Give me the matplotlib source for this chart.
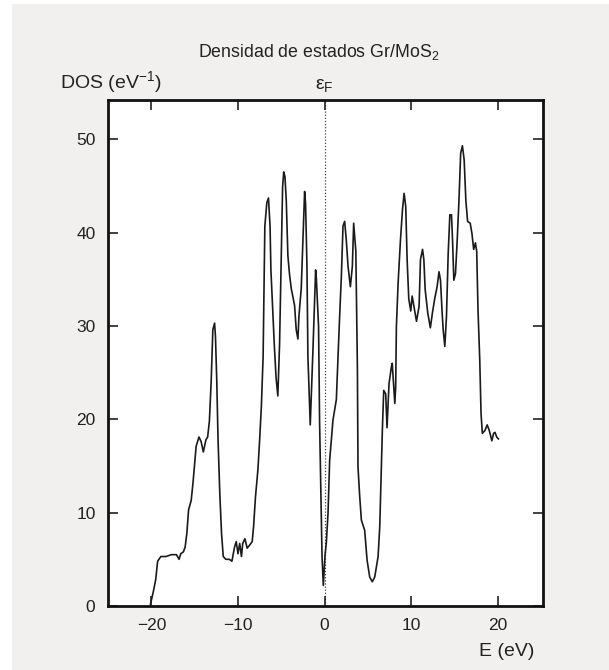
import matplotlib
matplotlib.use('Agg')
import matplotlib.pyplot as plt
from matplotlib.patches import Rectangle

plt.rcParams.update({
    'font.family': ['Liberation Sans', 'DejaVu Sans'],
    'mathtext.fontset': 'custom',
    'mathtext.rm': 'Liberation Sans',
    'mathtext.it': 'Liberation Sans:italic',
    'text.color': '#222222',
    'xtick.color': '#222222',
    'ytick.color': '#222222',
})

# energy (eV) and density of states (1/eV)
energy = [
    -20.1, -19.8, -19.5, -19.27, -18.9, -18.3, -17.7, -17.1, -16.8, -16.6,
    -16.3, -16.1, -15.9, -15.7, -15.4, -15.2, -15.0, -14.83, -14.5, -14.25,
    -14.0, -13.7, -13.5, -13.3, -13.1, -12.9, -12.7, -12.6, -12.45, -12.3,
    -12.1, -11.9, -11.7, -11.4, -11.0, -10.7, -10.4, -10.2, -10.0, -9.8,
    -9.6, -9.45, -9.2, -8.94, -8.67, -8.36, -8.2, -7.98, -7.7, -7.5,
    -7.3, -7.1, -7.0, -6.9, -6.67, -6.48, -6.3, -6.2, -5.8, -5.6,
    -5.4, -5.2, -5.0, -4.85, -4.72, -4.58, -4.43, -4.24, -4.05, -3.85,
    -3.47, -3.28, -3.08, -2.97, -2.7, -2.5, -2.31, -2.2, -2.04, -1.93,
    -1.66, -1.35, -1.04, -0.95, -0.7, -0.58, -0.39, -0.3, -0.15, 0.05,
    0.19, 0.39, 0.58, 0.96, 1.35, 1.73, 1.93, 2.12, 2.31, 2.5,
    2.7, 2.97, 3.2, 3.35, 3.6, 3.78, 3.85, 4.05, 4.24, 4.62,
    4.9, 5.2, 5.5, 5.78, 6.17, 6.36, 6.55, 6.67, 6.82, 7.05,
    7.2, 7.43, 7.7, 7.8, 8.1, 8.2, 8.28, 8.48, 8.75, 8.98,
    9.17, 9.36, 9.52, 9.71, 9.94, 10.1, 10.3, 10.6, 10.9, 11.06,
    11.3, 11.45, 11.6, 11.9, 12.2, 12.44, 12.7, 12.98, 13.2, 13.37,
    13.56, 13.68, 13.87, 14.06, 14.26, 14.45, 14.64, 14.76, 14.91, 15.1,
    15.3, 15.5, 15.7, 15.9, 16.1, 16.3, 16.5, 16.8, 17.0, 17.2,
    17.4, 17.55, 17.7, 17.9, 18.05, 18.2, 18.5, 18.76, 19.0, 19.3,
    19.5, 19.66, 19.86, 20.05,
]
dos = [
    0.2, 1.4, 2.8, 4.8, 5.3, 5.3, 5.5, 5.5, 5.0, 5.6,
    5.8, 6.3, 7.8, 10.3, 11.3, 13.1, 15.3, 17.1, 18.1, 17.6,
    16.5, 17.8, 18.1, 19.8, 23.9, 29.6, 30.3, 28.9, 24.2, 17.8,
    12.1, 7.8, 5.3, 5.0, 5.0, 4.8, 6.3, 6.9, 5.6, 6.7,
    5.3, 6.7, 7.2, 6.2, 6.5, 6.9, 8.5, 11.7, 14.6, 17.8,
    21.4, 26.7, 33.5, 40.7, 43.2, 43.7, 40.7, 36.0, 27.8, 24.4,
    22.5, 28.1, 37.6, 44.9, 46.5, 46.0, 43.5, 37.5, 35.5, 34.0,
    32.2, 29.6, 28.6, 31.0, 34.0, 39.2, 44.4, 43.1, 36.4, 26.7,
    19.4, 27.4, 36.0, 35.0, 29.9, 19.6, 9.9, 5.3, 2.2, 5.5,
    6.7, 9.9, 15.6, 19.9, 22.1, 31.0, 35.3, 40.7, 41.2, 39.2,
    36.4, 34.2, 36.4, 41.0, 38.0, 25.6, 14.9, 11.7, 9.2, 8.1,
    4.9, 3.1, 2.6, 3.1, 5.3, 8.5, 14.9, 19.1, 23.1, 22.7,
    19.1, 23.8, 25.6, 26.0, 21.7, 23.5, 29.9, 34.6, 39.2, 42.4,
    44.2, 42.8, 37.1, 32.9, 31.6, 33.2, 32.1, 30.5, 32.1, 37.1,
    38.2, 37.1, 33.9, 31.4, 29.8, 31.4, 32.9, 34.2, 35.8, 34.9,
    31.4, 29.6, 27.8, 31.0, 37.8, 41.9, 41.9, 39.2, 34.9, 35.6,
    39.2, 43.4, 48.5, 49.3, 47.8, 43.4, 41.2, 41.0, 39.9, 38.2,
    38.9, 38.0, 31.7, 26.4, 20.6, 18.5, 18.8, 19.4, 18.8, 17.7,
    18.5, 18.6, 18.1, 17.9,
]
x_ticks = [-20, -10, 0, 10, 20]
y_ticks = [0, 10, 20, 30, 40, 50]

fig = plt.figure(figsize=(6.09, 6.70), dpi=100, facecolor='white')
# light gray panel behind everything (white strip on the left and top)
fig.patches.append(Rectangle((12 / 609, 0), 1, 666 / 670, transform=fig.transFigure,
                             facecolor='#f1f0ef', edgecolor='none', zorder=-10))

ax = fig.add_axes([108 / 609, 64 / 670, 435 / 609, 506 / 670])
ax.set_facecolor('white')

ax.axvline(0, color='#444444', linewidth=0.9, linestyle=(0, (1, 1.5)), zorder=1)
ax.plot(energy, dos, color='#1a1a1a', linewidth=1.2, zorder=2)

ax.set_xlim(-25, 25.2)
ax.set_ylim(0, 54.2)
ax.set_xticks(x_ticks)
ax.set_yticks(y_ticks)
ax.tick_params(direction='in', length=7, width=1.2, top=True, right=True,
               labelsize=12.5, pad=9)
for s in ax.spines.values():
    s.set_linewidth(2)
    s.set_color('#111111')

fig.text(319 / 609, 1 - 52 / 670, 'Densidad de estados Gr/MoS$_2$', ha='center', va='center',
         fontsize=12.8)
fig.text(60 / 609, 1 - 82 / 670, 'DOS (eV$^{-1}$)', ha='left', va='center', fontsize=14)
fig.text(324 / 609, 1 - 86 / 670, 'ε$_\\mathrm{F}$', ha='center', va='center', fontsize=14)
fig.text(534 / 609, 1 - 652 / 670, 'E (eV)', ha='right', va='center', fontsize=14)

fig.savefig('out.png', dpi=100, facecolor=fig.get_facecolor())
